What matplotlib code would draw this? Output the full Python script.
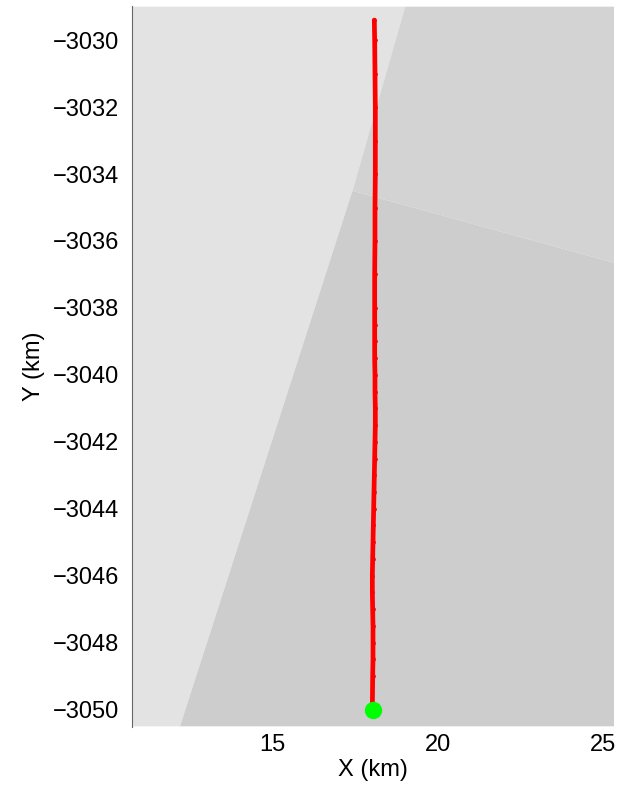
import matplotlib
matplotlib.use("Agg")
import matplotlib.pyplot as plt

plt.rcParams["font.family"] = ["Liberation Sans", "DejaVu Sans"]

TEXT_SIZE = 17
FIG_W, FIG_H = 623, 802

# Track, km
track_x = [18.09, 18.10, 18.11, 18.12, 18.12, 18.12, 18.11, 18.11, 18.10, 18.10,
           18.10, 18.10, 18.10, 18.11, 18.11, 18.12, 18.12, 18.11, 18.10, 18.09,
           18.08, 18.07, 18.06, 18.05, 18.04, 18.03, 18.03, 18.04, 18.05, 18.05,
           18.05, 18.04, 18.03]
track_y = [-3029.4, -3030, -3031, -3032, -3033, -3034, -3035, -3036, -3037, -3038,
           -3038.5, -3039, -3039.5, -3040, -3040.5, -3041, -3041.5, -3042, -3042.5, -3043,
           -3043.5, -3044, -3044.5, -3045, -3045.5, -3046, -3046.5, -3047, -3047.5, -3048,
           -3048.5, -3049, -3050]
start_x = [18.05]
start_y = [-3050.02]

# Background zones as polygon outlines in km
light_x = [10.77, 19.02, 17.43, 12.22, 10.77]
light_y = [-3029.0, -3029.0, -3034.5, -3050.5, -3050.5]
mid_x = [19.02, 25.33, 25.33, 17.43]
mid_y = [-3029.0, -3029.0, -3036.65, -3034.5]
dark_x = [17.43, 25.33, 25.33, 12.22]
dark_y = [-3034.5, -3036.65, -3050.5, -3050.5]

x_ticks = [15, 20, 25]
y_ticks = [-3030, -3032, -3034, -3036, -3038, -3040, -3042, -3044, -3046, -3048, -3050]

fig = plt.figure(figsize=(FIG_W / 100, FIG_H / 100), dpi=100)
ax = fig.add_axes([132 / FIG_W, 1 - 727 / FIG_H, (614 - 132) / FIG_W, (727 - 6) / FIG_H])

ax.fill(light_x, light_y, color="#e3e3e3", lw=0)
ax.fill(mid_x, mid_y, color="#d3d3d3", lw=0)
ax.fill(dark_x, dark_y, color="#cdcdcd", lw=0)

ax.plot(track_x, track_y, color="#ff0000", lw=3.4, marker="o", ms=3.4, mew=0,
        solid_capstyle="round", zorder=3)
ax.plot(start_x, start_y, color="#00ff00", marker="o", ms=12.5, mew=0, ls="none", zorder=4)

ax.set_xlim(10.77, 25.33)
ax.set_ylim(-3050.52, -3028.98)
ax.set_xticks(x_ticks)
ax.set_yticks(y_ticks)
ax.tick_params(length=0, labelsize=TEXT_SIZE, pad=9)
ax.tick_params(axis="x", pad=5)
ax.set_xlabel("X (km)", fontsize=TEXT_SIZE, labelpad=2)
ax.set_ylabel("Y (km)", fontsize=TEXT_SIZE, labelpad=6)

ax.spines[["top", "right", "bottom"]].set_visible(False)
ax.spines["left"].set_color("#666666")
ax.spines["left"].set_linewidth(0.8)

fig.savefig("out.png", dpi=100)
